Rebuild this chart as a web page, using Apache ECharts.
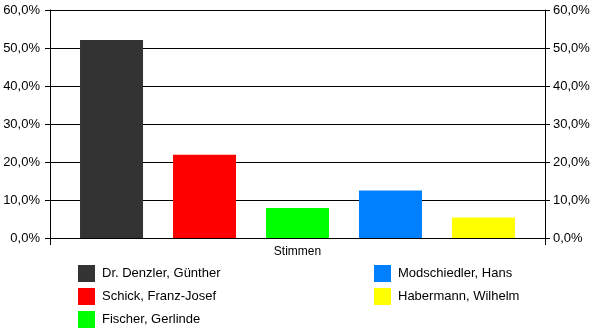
<!DOCTYPE html>
<html>
<head>
<meta charset="utf-8">
<script src="https://cdn.jsdelivr.net/npm/echarts@6/dist/echarts.min.js"></script>
<style>
  html, body { margin: 0; padding: 0; background: #fff; }
  #chart { width: 600px; height: 333px; }
</style>
</head>
<body>
<div id="chart"></div>
<script>
// Stimmenanteile je Kandidat (in Prozent)
const categories = ['Stimmen'];
const candidates = [
  'Dr. Denzler, Günther',
  'Schick, Franz-Josef',
  'Fischer, Gerlinde',
  'Modschiedler, Hans',
  'Habermann, Wilhelm'
];
const shares = [52.1, 21.9, 7.9, 12.5, 5.4];
const colors = ['#333333', '#ff0000', '#00ff00', '#0080ff', '#ffff00'];
const legendLeft = candidates.slice(0, 3);
const legendRight = candidates.slice(3);

const FONT = 'Arial, "Liberation Sans", sans-serif';
const fmt = v => v.toFixed(1).replace('.', ',') + '%';

const valueAxis = (position, margin) => ({
  type: 'value',
  position: position,
  min: 0,
  max: 60,
  interval: 10,
  axisLine: { show: true, lineStyle: { color: '#000', width: 1 } },
  axisTick: { show: true, length: 5, lineStyle: { color: '#000' } },
  axisLabel: { formatter: fmt, color: '#000', fontFamily: FONT, fontSize: 13, margin: margin },
  splitLine: { show: position === 'left', lineStyle: { color: '#000', width: 1 } }
});

const legendBlock = (names, left) => ({
  data: names,
  orient: 'vertical',
  left: left,
  top: 265,
  height: 68,
  padding: 0,
  itemWidth: 17,
  itemHeight: 17,
  itemGap: 6,
  icon: 'rect',
  textStyle: { color: '#000', fontFamily: FONT, fontSize: 13, padding: [0, 0, 0, 2] }
});

const chart = echarts.init(document.getElementById('chart'), null, { renderer: 'canvas' });
chart.setOption({
  animation: false,
  backgroundColor: '#fff',
  grid: { left: 50, right: 55, top: 10, bottom: 95, containLabel: false },
  xAxis: {
    type: 'category',
    data: categories,
    axisLine: { lineStyle: { color: '#000', width: 1 } },
    axisTick: { show: true, length: 7, lineStyle: { color: '#000' } },
    axisLabel: { color: '#000', fontFamily: FONT, fontSize: 12, margin: 8 }
  },
  yAxis: [valueAxis('left', 10), valueAxis('right', 8)],
  legend: [legendBlock(legendLeft, 78), legendBlock(legendRight, 374)],
  series: candidates.map((name, i) => ({
    name: name,
    type: 'bar',
    yAxisIndex: 0,
    data: [shares[i]],
    barWidth: 63,
    barGap: '47.6%',
    itemStyle: { color: colors[i] }
  }))
});
</script>
</body>
</html>
